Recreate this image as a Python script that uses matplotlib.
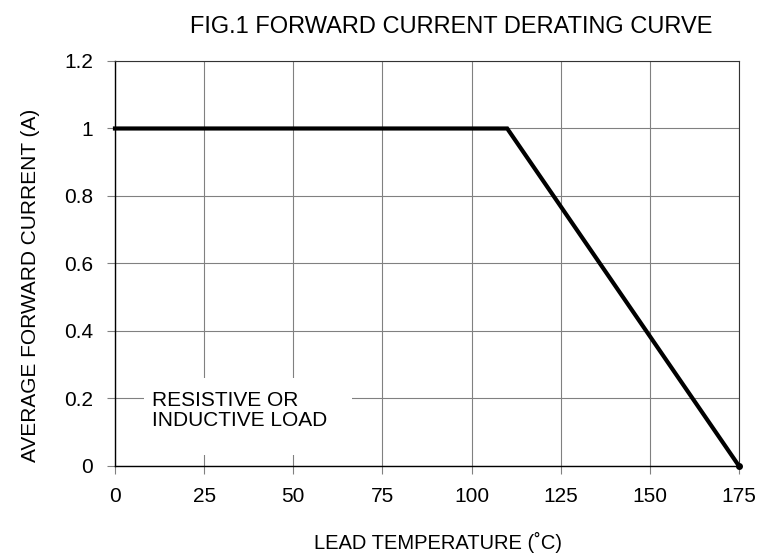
import matplotlib
matplotlib.use("Agg")
import matplotlib.pyplot as plt
from matplotlib.patches import Rectangle

plt.rcParams['font.family'] = ['Liberation Sans', 'DejaVu Sans']

# Data
temperature = [0, 110, 175]
current = [1.0, 1.0, 0.0]
x_ticks = [0, 25, 50, 75, 100, 125, 150, 175]
y_ticks = [0, 0.2, 0.4, 0.6, 0.8, 1.0, 1.2]
y_tick_labels = ['0', '0.2', '0.4', '0.6', '0.8', '1', '1.2']
title = 'FIG.1 FORWARD CURRENT DERATING CURVE'
x_label = 'LEAD TEMPERATURE (˚C)'
y_label = 'AVERAGE FORWARD CURRENT (A)'
note = 'RESISTIVE OR\nINDUCTIVE LOAD'

fig = plt.figure(figsize=(7.57, 5.56), dpi=100)
ax = fig.add_axes([0.1519, 0.1619, 0.8243, 0.7284])

ax.set_xlim(0, 175)
ax.set_ylim(0, 1.2)
ax.set_xticks(x_ticks)
ax.set_xticklabels([str(t) for t in x_ticks])
ax.set_yticks(y_ticks)
ax.set_yticklabels(y_tick_labels)

ax.grid(True, color='#808080', linewidth=0.8, zorder=1)
ax.set_axisbelow(True)
ax.tick_params(axis='both', direction='out', length=6, width=0.8, color='#808080',
               labelsize=15, labelcolor='black')
ax.tick_params(axis='x', pad=9)
ax.tick_params(axis='y', pad=10)

for side in ['left', 'bottom']:
    ax.spines[side].set_color('black')
    ax.spines[side].set_linewidth(1.0)
for side in ['top', 'right']:
    ax.spines[side].set_color('#333333')
    ax.spines[side].set_linewidth(0.8)

# White box behind the note
ax.add_patch(Rectangle((8, 0.033), 58.5, 0.227, facecolor='white', edgecolor='none', zorder=2))
ax.text(10.3, 0.165, note, fontsize=15, ha='left', va='center', linespacing=1.05, zorder=3)

ax.plot(temperature, current, color='black', linewidth=3.0, zorder=4,
        solid_joinstyle='miter', marker='o', markersize=4, markevery=[2], clip_on=False)

fig.text(0.596, 0.9406, title, fontsize=17, ha='center', va='baseline')
fig.text(0.5786, 0.012, x_label, fontsize=14.5, ha='center', va='baseline')
fig.text(0.0476, 0.4874, y_label, fontsize=15, ha='center', va='baseline',
         rotation=90, rotation_mode='anchor')

fig.savefig('out.png', dpi=100)
